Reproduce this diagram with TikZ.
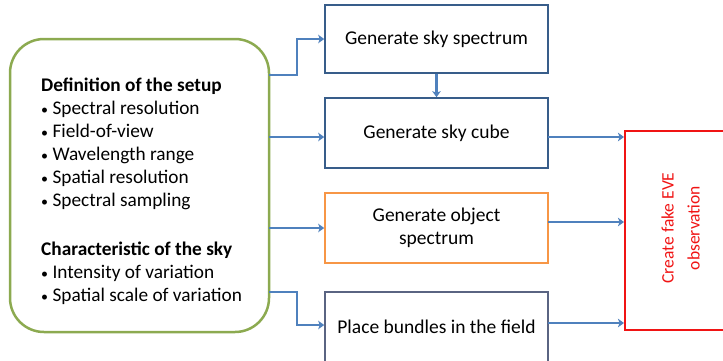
\documentclass[tikz,border=0pt]{standalone}
\usepackage{fontspec}
\setmainfont{Carlito}
\usetikzlibrary{arrows.meta,calc}
\definecolor{flowblue}{RGB}{79,129,189}
\definecolor{boxblue}{RGB}{56,93,138}
\definecolor{setupgreen}{RGB}{140,170,80}
\definecolor{objorange}{RGB}{247,150,70}
\definecolor{fieldgray}{RGB}{90,100,130}
\definecolor{eyered}{RGB}{240,20,20}
\newcommand{\itembullet}{{\fontsize{14}{14}\selectfont•}}
\begin{document}
\begin{tikzpicture}[x=1pt,y=-1pt,
  stepbox/.style={draw=boxblue,line width=1.6pt,minimum width=223pt,minimum height=68pt,
    align=center,font=\fontsize{19.5}{23}\selectfont,inner sep=2pt},
  arr/.style={draw=flowblue,line width=2.6pt,-{Stealth[length=6pt,width=8.5pt,inset=1.5pt]}}]
\useasboundingbox (0,0) rectangle (723,360);
\begin{scope}
\clip (0,0) rectangle (723,360);
% setup parameters panel
\node[draw=setupgreen,line width=2.5pt,rounded corners=34pt,minimum width=259pt,minimum height=293pt] (setup) at (139.5,185.5) {};
\node[anchor=north west,align=left,font=\fontsize{19.3}{23}\selectfont,inner sep=0pt] (setuptxt) at (41,78)
 {\textbf{Definition of the setup}\\
  \itembullet{} Spectral resolution\\
  \itembullet{} Field-of-view\\
  \itembullet{} Wavelength range\\
  \itembullet{} Spatial resolution\\
  \itembullet{} Spectral sampling\\[26pt]
  \textbf{Characteristic of the sky}\\
  \itembullet{} Intensity of variation\\
  \itembullet{} Spatial scale of variation};
% processing steps
\node[stepbox] (spec) at (436.5,39) {Generate sky spectrum};
\node[stepbox,minimum height=70pt] (cube) at (436.5,133) {Generate sky cube};
\node[stepbox,draw=objorange,minimum height=70pt] (obj) at (436.5,228) {Generate object\\spectrum};
\node[stepbox,draw=fieldgray,minimum height=70pt] (field) at (436.5,327) {Place bundles in the field};
\node[draw=eyered,line width=2pt,minimum width=110pt,minimum height=199pt] (eve) at (680,230.5) {};
\node[rotate=90,align=center,text=eyered,font=\fontsize{17.5}{26}\selectfont] (evetxt) at (680.5,228) {Create fake EVE\\observation};
% connectors
\coordinate (s1) at (269,75);
\coordinate (k1) at (297,39);
\coordinate (s2) at (269,137);
\coordinate (s3) at (269,228);
\coordinate (s4) at (269,292);
\coordinate (k4) at (297,325);
\draw[arr] (s1) -| (k1) -- (spec.west);
\draw[arr] (s2) -- (cube.west |- s2);
\draw[arr] (s3) -- (obj.west |- s3);
\draw[arr] (s4) -| (k4) -- (field.west |- k4);
\draw[arr] (spec.south) -- (cube.north);
\coordinate (e2) at (548,137);
\coordinate (e3) at (548,222);
\coordinate (e4) at (548,323);
\draw[arr] (e2) -- (eve.west |- e2);
\draw[arr] (e3) -- (eve.west |- e3);
\draw[arr] (e4) -- (eve.west |- e4);
\end{scope}
\end{tikzpicture}
\end{document}
